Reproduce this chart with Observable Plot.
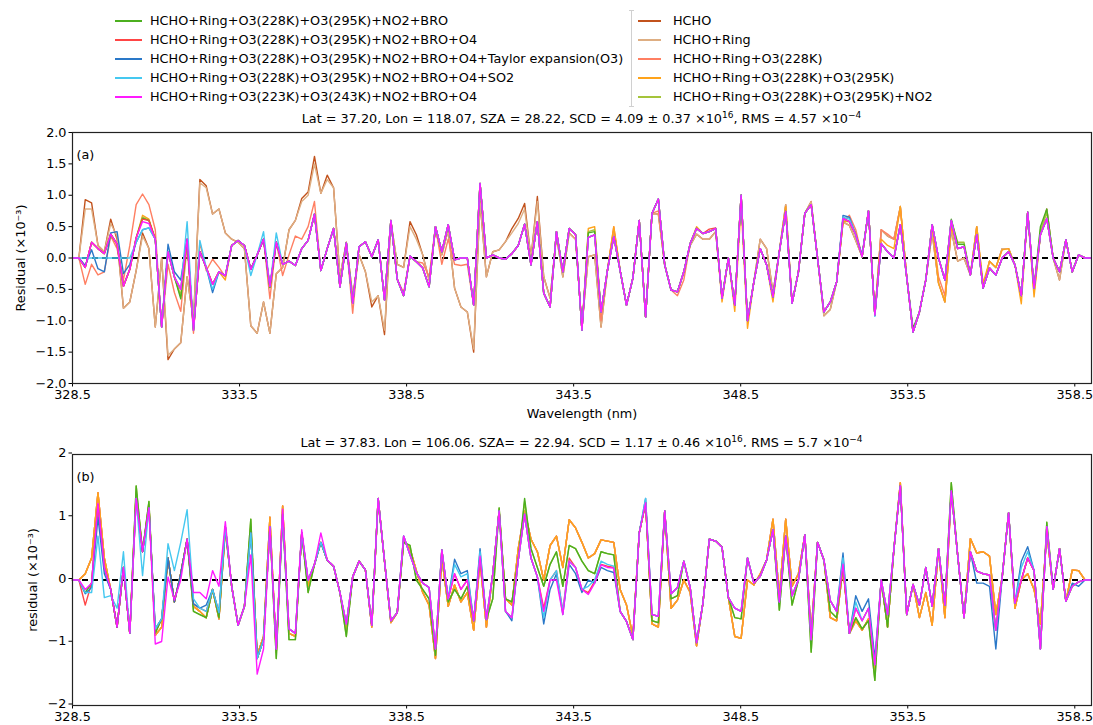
<!DOCTYPE html>
<html><head><meta charset="utf-8">
<script src="https://cdn.jsdelivr.net/npm/d3@7"></script>
<script src="https://cdn.jsdelivr.net/npm/@observablehq/plot@0.6"></script>
<style>
body{margin:0;background:#fff;font-family:"DejaVu Sans",sans-serif;color:#000;}
#wrap{position:relative;width:1093px;height:725px;overflow:hidden;background:#fff;}
.legline{position:absolute;height:2px;}
.legtext{position:absolute;font-size:12.8px;line-height:16px;white-space:nowrap;}
.title{position:absolute;left:72px;width:1019px;text-align:center;font-size:12.8px;line-height:16px;white-space:nowrap;}
.title sup{font-size:9px;vertical-align:0;position:relative;top:-5px;}
.panel{position:absolute;left:0;}
</style></head>
<body><div id="wrap"></div>
<script>
// ---------------- data ----------------
const N = 161;
const wavelength = d3.range(N).map(i => 328.5 + i * 0.1906);
const xTicks = [328.5, 333.5, 338.5, 343.5, 348.5, 353.5, 358.5];
const yTicksA = [-2, -1.5, -1, -0.5, 0, 0.5, 1, 1.5, 2];
const yTicksB = [-2, -1, 0, 1, 2];

const seriesNames = [
  "HCHO", "HCHO+Ring", "HCHO+Ring+O3(228K)", "HCHO+Ring+O3(228K)+O3(295K)",
  "HCHO+Ring+O3(228K)+O3(295K)+NO2", "HCHO+Ring+O3(228K)+O3(295K)+NO2+BRO",
  "HCHO+Ring+O3(228K)+O3(295K)+NO2+BRO+O4",
  "HCHO+Ring+O3(228K)+O3(295K)+NO2+BRO+O4+Taylor expansion(O3)",
  "HCHO+Ring+O3(228K)+O3(295K)+NO2+BRO+O4+SO2",
  "HCHO+Ring+O3(223K)+O3(243K)+NO2+BRO+O4"
];
const seriesColors = ["#c2521c", "#deae82", "#ff7f62", "#ffa31a", "#a5c43a",
  "#4caf1f", "#ff4545", "#2a78c8", "#45c8f0", "#ff1aff"];

// panel (a): common residual curve (top, magenta) and per-fit departures [index, value]
const mainA = [
  0, 0, -0.15, 0.25, 0.15, 0.07, 0.38, 0.22, -0.45, -0.18,
  0.32, 0.58, 0.55, 0.3, -1.1, 0.1, -0.3, -0.5, 0.3, -1.15,
  0.1, -0.15, -0.42, -0.22, -0.28, 0.2, 0.28, 0.2, -0.18, 0.05,
  0.3, -0.45, 0.25, -0.1, -0.05, -0.12, 0.15, 0.28, 0.7, -0.2,
  0.15, 0.47, -0.46, 0.24, -0.72, 0.18, 0.26, 0.02, 0.29, -0.67,
  0.6, -0.34, -0.6, 0.03, -0.06, -0.16, -0.46, 0.5, 0.1, 0.53,
  -0.03, 0, 0, -0.75, 1.19, 0, 0.05, 0, -0.02, 0.07,
  0.2, 0.54, -0.11, 0.58, -0.56, -0.78, 0.42, -0.22, 0.47, 0.37,
  -1.15, 0.33, 0.37, -0.86, -0.2, 0.34, -0.2, -0.75, -0.32, 0.6,
  -0.94, 0.71, 0.94, -0.11, -0.51, -0.54, -0.22, 0.23, 0.47, 0.39,
  0.42, 0.47, -0.64, 0, -0.75, 1.0, -1.0, -0.38, 0.15, -0.11,
  -0.62, 0.1, 0.74, -0.72, -0.22, 0.71, 0.85, 0, -0.86, -0.7,
  -0.38, 0.63, 0.58, 0.37, 0.02, 0.75, -0.91, 0.23, 0.1, 0,
  0.53, -0.3, -1.18, -0.86, -0.35, 0.53, 0, -0.35, 0.6, 0.15,
  0.18, -0.27, 0.37, -0.48, -0.16, -0.27, 0, 0.1, -0.11, -0.6,
  0.73, -0.48, 0.37, 0.63, 0, -0.22, 0.29, -0.22, 0.05, 0,
  0
];
const hchoA = [[2,0.93],[3,0.88],[4,0.2],[5,0.1],[6,0.62],[7,0.3],[8,-0.8],[9,-0.7],[10,-0.2],[11,0.4],[12,0.15],[13,-1.1],[14,0.0],[15,-1.62],[16,-1.45],[17,-1.35],[18,-0.3],[19,-1.0],[20,1.25],[21,1.15],[22,0.7],[23,0.78],[24,0.4],[25,0.3],[26,0.25],[27,0.15],[28,-1.08],[29,-1.2],[30,-0.7],[31,-1.2],[32,-0.25],[33,-0.15],[34,0.45],[35,0.6],[36,0.95],[37,1.05],[38,1.62],[39,1.03],[40,1.32],[41,1.12],[42,-0.3],[43,0.25],[44,-0.6],[45,0.05],[46,-0.22],[47,-0.78],[48,-0.6],[49,-1.22],[50,0.58],[51,-0.1],[52,-0.15],[53,0.58],[54,0.37],[55,0.05],[56,-0.35],[57,0.45],[58,0.05],[59,0.45],[60,-0.48],[61,-0.78],[62,-0.86],[63,-1.5],[64,0.9],[65,-0.3],[66,0.1],[67,0.13],[68,0.26],[69,0.47],[70,0.63],[71,0.87],[72,0.0],[73,0.98],[74,-0.3],[75,-0.64],[76,0.35],[77,-0.3],[78,0.4],[79,0.3],[80,-1.1],[81,0.02],[82,0.05],[83,-1.1],[85,0.45],[92,0.7],[97,0.2],[98,0.38],[99,0.3],[100,0.3],[101,0.42],[108,0.3],[109,0.15],[110,-0.55],[112,0.85],[116,0.9],[118,-0.92],[119,-0.82],[121,0.57],[122,0.52],[123,0.28],[127,0.45],[128,0.35],[129,0.3],[130,0.82],[135,0.4],[136,-0.4],[137,-0.7],[138,0.45],[139,-0.05],[140,0.0],[142,0.5],[144,-0.05],[145,-0.15],[146,0.15],[147,0.15],[151,-0.55],[153,0.78],[155,-0.35]];
const ringA = [[2,0.78],[3,0.78],[6,0.55],[7,0.35],[11,0.35],[15,-1.55],[20,1.2],[21,1.12],[36,0.9],[37,1.0],[38,1.5],[40,1.25],[47,-0.7],[49,-1.15],[53,0.5],[54,0.3],[63,-1.45],[69,0.4],[70,0.55],[71,0.78],[73,0.9]];
const o3228A = [[2,-0.42],[3,-0.1],[4,-0.27],[5,-0.22],[6,0.35],[7,0.15],[8,-0.35],[9,0.2],[10,0.85],[11,1.02],[12,0.85],[13,0.45],[15,-0.1],[16,-0.55],[17,-0.85],[18,0.2],[19,-1.2],[20,0.25],[21,-0.2],[22,-0.02],[23,-0.15],[24,-0.3],[31,-0.65],[33,-0.28],[34,0.05],[35,0.35],[36,0.3],[37,0.5],[38,0.9],[44,-0.88],[52,-0.55],[55,-0.08],[56,-0.3],[58,-0.1],[59,0.3],[60,-0.1],[61,-0.12],[62,-0.1],[83,-1.0],[85,0.5],[92,0.75],[95,-0.6],[96,-0.35],[121,0.58],[122,0.68],[123,0.45],[127,0.45],[128,0.38],[129,0.3],[130,0.8],[136,-0.3],[137,-0.6]];
const o3295A = [[11,0.68],[12,0.62],[17,-0.62],[24,-0.35],[81,0.47],[82,0.5],[85,0.5],[98,0.5],[102,-0.7],[104,-0.85],[105,0.85],[106,-1.12],[110,-0.7],[112,0.82],[121,0.58],[122,0.58],[123,0.4],[127,0.3],[128,0.2],[129,0.15],[130,0.82],[136,-0.4],[137,-0.7],[138,0.5],[142,0.5],[143,-0.4],[144,-0.05],[145,-0.15],[146,0.13],[147,0.15],[149,-0.73],[151,-0.62]];
const no2A = [[11,0.65],[12,0.6],[17,-0.6],[31,-0.47],[81,0.42],[82,0.45],[138,0.6],[139,0.25],[140,0.25],[152,0.45],[153,0.72]];
const broA = [[11,0.63],[12,0.6],[17,-0.65],[19,-1.12],[31,-0.47],[81,0.4],[82,0.42],[132,-1.12],[138,0.62],[139,0.22],[140,0.22],[152,0.5],[153,0.78]];
const o4A = [[11,0.62],[12,0.6],[100,0.46],[101,0.48]];
const taylorA = [[2,-0.12],[3,0.13],[4,-0.17],[5,-0.22],[6,0.4],[7,0.42],[8,-0.25],[9,-0.1],[10,0.25],[11,0.45],[12,0.48],[15,0.22],[16,-0.22],[17,-0.35],[22,-0.55],[121,0.68],[122,0.65],[124,0.05],[125,0.75]];
const so2A = [[2,0],[3,0],[4,0],[5,0],[6,0],[7,0],[8,0],[9,0],[10,0.25],[11,0.45],[12,0.48],[18,0.58],[20,0.28],[22,-0.5],[28,-0.28],[30,0.42],[32,0.4],[121,0.65],[122,0.62],[126,-0.93]];
const o3223A = [];

// panel (b)
const mainB = [
  0, 0, -0.2, -0.05, 1.2, 0.2, -0.15, -0.75, 0.2, -0.85,
  1.3, 0.45, 1.15, -0.78, -0.62, 0.35, -0.35, 0.1, 0.65, -0.38,
  -0.45, -0.5, -0.15, -0.52, 0.85, -0.1, -0.72, -0.42, 0.75, -1.25,
  -0.95, 0.85, -1.1, 1.05, -0.78, -0.85, 0.75, 0, 0.25, 0.6,
  0.32, 0.22, -0.2, -0.7, 0.05, 0.3, 0.16, -0.72, 1.3, 0.3,
  -0.65, -0.52, 0.7, 0.4, 0.12, -0.05, -0.12, -1.1, 0.48, -0.3,
  0.1, -0.15, 0, -0.65, 0.38, -0.63, 0.1, 1.1, -0.5, -0.6,
  0.32, 1.05, 0.35, 0.05, -0.37, 0, 0.15, -0.5, 0.35, 0.2,
  -0.15, -0.1, 0, 0.3, 0.25, 0.22, -0.5, -0.66, -0.95, 0.75,
  1.23, -0.55, -0.58, 1.1, -0.22, -0.12, 0.3, -0.12, -1.0, -0.37,
  0.65, 0.62, 0.52, -0.28, -0.45, -0.5, 0.35, -0.05, 0.06, 0.32,
  0.8, -0.35, 0.7, -0.25, 0, 0.72, -0.95, 0.6, 0.32, -0.33,
  -0.5, 0.25, -0.85, -0.45, -0.65, -0.45, -1.35, 0, -0.55, 0.5,
  1.5, -0.55, -0.07, -0.4, 0.2, -0.42, 0.5, -0.4, 1.42, 0.4,
  -0.6, 0.45, 0.14, 0.1, 0.08, -0.8, 0.05, 1.07, -0.37, 0,
  0.35, 0.15, -1.1, 0.85, -0.15, 0.5, -0.34, -0.1, -0.03, 0,
  0
];
const orangeB = [[2,0.1],[3,0.35],[4,1.39],[5,0.35],[10,1.4],[12,1.2],[13,-0.88],[14,-0.75],[19,-0.42],[20,-0.5],[21,-0.6],[23,-0.62],[24,0.8],[28,0.85],[29,-1.2],[30,-0.9],[31,1.0],[32,-1.15],[33,1.18],[34,-0.85],[35,-0.9],[37,-0.1],[43,-0.8],[47,-0.75],[50,-0.68],[52,0.62],[53,0.5],[54,0.15],[55,-0.2],[56,-0.4],[57,-1.25],[58,0.35],[59,-0.42],[60,-0.08],[61,-0.35],[62,-0.2],[63,-0.8],[64,0.3],[65,-0.75],[68,-0.3],[69,-0.4],[70,0.5],[71,1.1],[72,0.65],[73,0.45],[74,0.0],[75,0.55],[76,0.7],[77,0.2],[78,0.96],[79,0.83],[80,0.6],[81,0.35],[82,0.42],[83,0.64],[84,0.62],[85,0.6],[86,-0.15],[87,-0.4],[88,-0.9],[91,-0.7],[92,-0.75],[94,-0.45],[95,-0.32],[96,0.0],[97,-0.2],[98,-1.05],[104,-0.9],[105,-0.93],[106,0.0],[107,-0.08],[108,0.1],[110,0.97],[111,-0.25],[112,0.97],[113,-0.1],[114,0.1],[116,-0.85],[119,-0.6],[120,-0.65],[121,0.2],[123,-0.65],[124,-0.8],[125,-0.62],[126,-1.45],[128,-0.75],[130,1.55],[133,-0.6],[134,-0.2],[135,-0.72],[137,-0.6],[138,1.42],[141,0.66],[142,0.43],[143,0.45],[144,0.38],[145,-0.55],[148,-0.45],[150,0.1],[151,-0.15],[152,-0.7],[153,0.75],[157,0.16],[158,0.15]];
const greenB = [[10,1.5],[12,1.25],[13,-0.85],[19,-0.5],[20,-0.55],[21,-0.6],[23,-0.6],[28,0.97],[32,-1.25],[34,-0.95],[35,-0.95],[37,-0.2],[43,-0.9],[48,1.28],[52,0.6],[53,0.55],[54,0.0],[55,-0.15],[56,-0.3],[57,-1.2],[59,-0.35],[60,-0.15],[61,-0.3],[62,-0.1],[66,-0.3],[67,1.15],[68,-0.3],[69,-0.35],[71,1.3],[72,0.5],[73,0.2],[74,-0.1],[75,0.25],[76,0.45],[77,-0.1],[78,0.55],[79,0.5],[80,0.3],[81,0.15],[82,0.1],[83,0.45],[84,0.42],[85,0.4],[91,-0.65],[92,-0.68],[94,-0.3],[95,-0.25],[104,-0.6],[105,-0.62],[111,-0.48],[113,-0.4],[116,-1.15],[119,-0.5],[120,-0.6],[123,-0.6],[124,-0.78],[125,-0.65],[126,-1.6],[128,-0.75],[138,1.55],[153,0.92]];
const no2B = [[28,0.97],[48,1.25],[71,1.25]];
const o4B = [[2,-0.4],[4,1.2],[74,-0.45],[81,-0.2],[82,-0.02],[83,0.25],[84,0.22],[85,0.2]];
const taylorB = [[2,-0.22],[3,-0.12],[4,1.0],[5,0.1],[21,-0.4],[60,0.33],[61,0.1],[62,0.15],[64,0.5],[69,-0.65],[74,-0.7],[75,-0.15],[76,0.1],[77,-0.55],[78,0.25],[79,0.1],[80,-0.2],[81,0.0],[82,-0.05],[83,0.2],[84,0.15],[85,0.12],[90,1.3],[121,0.43],[123,-0.25],[124,-0.5],[125,-0.3],[126,-1.25],[142,-0.05],[143,-0.05],[144,-0.1],[145,-1.1],[149,0.3],[150,0.53],[157,-0.05],[158,-0.1]];
const so2B = [[2,-0.2],[3,-0.2],[4,0.7],[5,-0.28],[6,-0.25],[7,-0.45],[8,0.45],[11,0.07],[15,0.58],[16,0.15],[17,0.6],[18,1.12],[19,-0.3],[60,0.25],[61,0.05],[62,0.1],[64,0.45],[74,-0.6],[76,0.15],[78,0.3],[90,1.3],[121,0.35],[123,-0.35],[149,0.2],[150,0.45]];
const o3223B = [[2,-0.15],[4,1.22],[13,-1.02],[14,-0.98],[15,0.05],[16,-0.32],[17,0.0],[19,-0.2],[20,-0.2],[21,-0.3],[22,0.15],[23,-0.1],[24,0.93],[28,0.4],[29,-1.5],[30,-1.1],[33,1.13],[36,0.8],[39,0.75],[74,-0.5],[76,0.0],[77,-0.55],[78,0.3],[81,-0.23],[82,-0.05],[83,0.24],[84,0.2],[85,0.19]];

function apply(base, overrides) {
  const v = base.slice();
  for (const [i, y] of overrides) v[i] = y;
  return v;
}
const hchoAv = apply(mainA, hchoA);
const seriesA = [hchoAv, apply(hchoAv, ringA), apply(mainA, o3228A), apply(mainA, o3295A),
  apply(mainA, no2A), apply(mainA, broA), apply(mainA, o4A), apply(mainA, taylorA),
  apply(mainA, so2A), apply(mainA, o3223A)];
const orangeBv = apply(mainB, orangeB);
const greenBv = apply(mainB, greenB);
const seriesB = [orangeBv, orangeBv, orangeBv, orangeBv, apply(greenBv, no2B), greenBv,
  apply(mainB, o4B), apply(mainB, taylorB), apply(mainB, so2B), apply(mainB, o3223B)];

// ---------------- drawing ----------------
const wrap = document.getElementById("wrap");
function el(tag, cls, style, html) {
  const e = document.createElement(tag);
  if (cls) e.className = cls;
  Object.assign(e.style, style || {});
  if (html != null) e.innerHTML = html;
  wrap.appendChild(e);
  return e;
}
// legend: right column = first five fits, left column = last five
const rowsY = [21, 40, 59, 78, 96.5];
for (let r = 0; r < 5; r++) {
  const li = 5 + r, ri = r;
  el("div", "legline", {left: "115px", width: "27px", top: (rowsY[r] - 1) + "px", background: seriesColors[li]});
  el("div", "legtext", {left: "150px", top: (rowsY[r] - 8) + "px"}, seriesNames[li]);
  el("div", "legline", {left: "638px", width: "23px", top: (rowsY[r] - 1) + "px", background: seriesColors[ri]});
  el("div", "legtext", {left: "673px", top: (rowsY[r] - 8) + "px"}, seriesNames[ri]);
}
el("div", null, {position: "absolute", left: "631px", top: "10px", width: "1px", height: "97px", background: "#d0d0d0"});
el("div", null, {position: "absolute", left: "629px", top: "10px", width: "5px", height: "1px", background: "#d0d0d0"});
el("div", null, {position: "absolute", left: "629px", top: "106px", width: "5px", height: "1px", background: "#d0d0d0"});

el("div", "title", {top: "111px"}, "Lat = 37.20, Lon = 118.07, SZA = 28.22, SCD = 4.09 ± 0.37 ×10<sup>16</sup>, RMS = 4.57 ×10<sup>−4</sup>");
el("div", "title", {top: "435px"}, "Lat = 37.83, Lon = 106.06, SZA= = 22.94, SCD = 1.17 ± 0.46 ×10<sup>16</sup>, RMS = 5.7 ×10<sup>−4</sup>");

function linesFor(series) {
  return series.map((vals, k) => Plot.line(
    wavelength.map((w, i) => ({wl: w, v: vals[i]})),
    {x: "wl", y: "v", stroke: seriesColors[k], strokeWidth: 1.4, strokeLinejoin: "round"}));
}

function panel(series, opts) {
  return Plot.plot({
    width: 1093, height: opts.height,
    marginLeft: 72, marginRight: 2, marginTop: 7, marginBottom: opts.mb,
    style: {fontFamily: "DejaVu Sans, sans-serif", fontSize: "12.8px", color: "#000", background: "#fff", overflow: "visible"},
    x: {domain: [328.5, 359.0], ticks: xTicks, tickFormat: d3.format(".1f"), tickSize: 3.5, tickPadding: 3, label: null},
    y: {domain: [-2, 2], label: null},
    marks: [
      Plot.axisY({ticks: opts.yTicks, tickFormat: opts.yFmt, tickSize: 3.5, tickPadding: 2.5, label: null, dy: opts.ydy}),
      Plot.ruleY([0], {stroke: "#000", strokeWidth: 1.8, strokeDasharray: "6,4"}),
      ...linesFor(series),
      Plot.frame({stroke: "#222", strokeWidth: 1.2}),
      Plot.text([opts.tag], {text: d => d, frameAnchor: "top-left", dx: 4, dy: 22, lineAnchor: "middle", fontSize: 12.8}),
      Plot.text([opts.ylabel], {text: d => d, frameAnchor: "left", dx: opts.ylx, rotate: -90, textAnchor: "middle", lineAnchor: "middle", fontSize: 12.8}),
      ...(opts.xlabel ? [Plot.text([opts.xlabel], {text: d => d, frameAnchor: "bottom", dy: 30, lineAnchor: "middle", fontSize: 12.8})] : [])
    ]
  });
}

const pa = panel(seriesA, {height: 300, mb: 42, ydy: 0, yTicks: yTicksA, yFmt: d3.format(".1f"), tag: "(a)", ylabel: "Residual (×10⁻³)", ylx: -52, xlabel: "Wavelength (nm)"});
const da = el("div", "panel", {top: "125px"});
da.appendChild(pa);
const pb = panel(seriesB, {height: 277, mb: 19, ydy: -1.5, yTicks: yTicksB, yFmt: d3.format("d"), tag: "(b)", ylabel: "residual (×10⁻³)", ylx: -40, xlabel: null});
const db = el("div", "panel", {top: "447px"});
db.appendChild(pb);
</script>
</body></html>
